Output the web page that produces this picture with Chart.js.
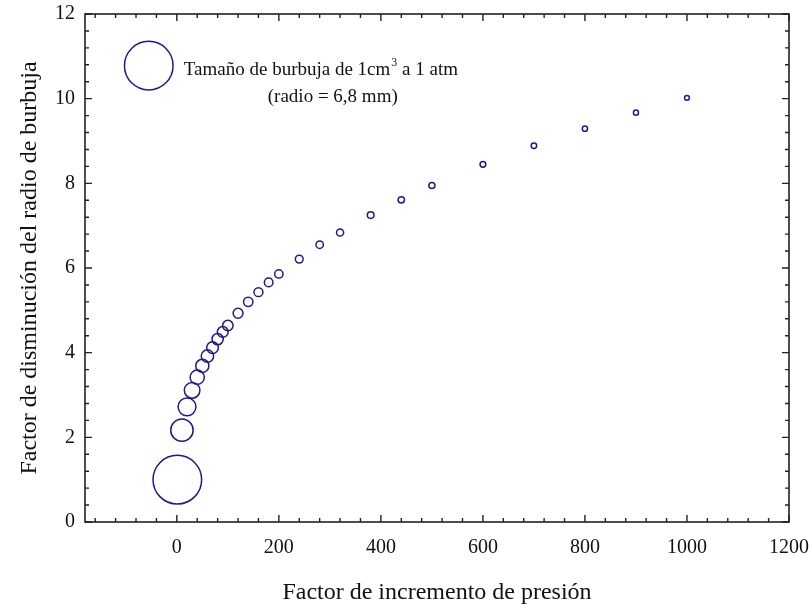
<!DOCTYPE html>
<html>
<head>
<meta charset="utf-8">
<script src="https://cdn.jsdelivr.net/npm/chart.js@4.4.0/dist/chart.umd.min.js"></script>
<style>
  html, body { margin: 0; padding: 0; background: #fff; }
  canvas { display: block; }
</style>
</head>
<body>
<canvas id="bubbleChart" width="812" height="608"></canvas>
<script>
// pressure increase factor (x) and radius decrease factor (y)
const pressureFactor = [1, 10, 20, 30, 40, 50, 60, 70, 80, 90, 100, 120, 140, 160, 180, 200,
    240, 280, 320, 380, 440, 500, 600, 700, 800, 900, 1000];
const radiusFactor = [1.0, 2.17, 2.72, 3.11, 3.42, 3.69, 3.92, 4.12, 4.32, 4.49, 4.64, 4.93,
    5.2, 5.43, 5.66, 5.86, 6.21, 6.55, 6.84, 7.25, 7.61, 7.95, 8.45, 8.89, 9.29, 9.67, 10.02];

// reference bubble (1 cm3 at 1 atm)
const refBubble = [{ x: -55, y: 10.78 }];

const xMajorTicks = [0, 200, 400, 600, 800, 1000, 1200];
const yMajorTicks = [0, 2, 4, 6, 8, 10, 12];

const navy = '#1b1b8c';
const axisColor = '#222222';
const serif = '"Liberation Serif", "DejaVu Serif", serif';
const baseRadius = 24.3; // px, bubble drawn at factor 1

const points = pressureFactor.map((p, i) => ({ x: p, y: radiusFactor[i] }));

// frame with inward major/minor ticks on all four sides
const framePlugin = {
    id: 'frame',
    afterDraw(chart) {
        const { ctx, chartArea: a, scales } = chart;
        const xs = scales.x, ys = scales.y;
        ctx.save();
        ctx.strokeStyle = axisColor;
        ctx.lineWidth = 1.6;
        ctx.strokeRect(a.left, a.top, a.right - a.left, a.bottom - a.top);
        ctx.lineWidth = 1.4;
        ctx.beginPath();
        for (let v = -160; v <= 1200; v += 40) {
            const px = xs.getPixelForValue(v);
            const len = (v % 200 === 0) ? 7 : 4;
            ctx.moveTo(px, a.bottom); ctx.lineTo(px, a.bottom - len);
            ctx.moveTo(px, a.top); ctx.lineTo(px, a.top + len);
        }
        for (let i = 0; i <= 30; i++) {
            const v = i * 0.4;
            const py = ys.getPixelForValue(v);
            const len = (i % 5 === 0) ? 7 : 4;
            ctx.moveTo(a.left, py); ctx.lineTo(a.left + len, py);
            ctx.moveTo(a.right, py); ctx.lineTo(a.right - len, py);
        }
        ctx.stroke();

        // label next to the reference bubble
        const bx = xs.getPixelForValue(refBubble[0].x);
        const by = ys.getPixelForValue(refBubble[0].y);
        ctx.fillStyle = '#111';
        ctx.textBaseline = 'middle';
        ctx.textAlign = 'left';
        ctx.font = '19px ' + serif;
        const tx = bx + 35;
        const part1 = 'Tamaño de burbuja de 1cm';
        ctx.fillText(part1, tx, by + 4);
        let w = ctx.measureText(part1).width;
        ctx.font = '12px ' + serif;
        ctx.fillText('3', tx + w + 1, by - 3);
        const w3 = ctx.measureText('3').width;
        ctx.font = '19px ' + serif;
        ctx.fillText(' a 1 atm', tx + w + w3 + 1, by + 4);
        ctx.textAlign = 'center';
        ctx.fillText('(radio = 6,8 mm)', bx + 184, by + 31);
        ctx.restore();
    }
};

new Chart(document.getElementById('bubbleChart'), {
    type: 'bubble',
    data: {
        datasets: [
            {
                label: 'Burbujas',
                data: points,
                backgroundColor: 'rgba(0,0,0,0)',
                borderColor: navy,
                borderWidth: 1.5,
                radius: (c) => baseRadius / c.raw.y
            },
            {
                label: 'Referencia',
                data: refBubble,
                backgroundColor: 'rgba(0,0,0,0)',
                borderColor: navy,
                borderWidth: 1.5,
                radius: baseRadius
            }
        ]
    },
    options: {
        responsive: false,
        animation: false,
        layout: { autoPadding: false, padding: { top: 14, right: 23, left: 0, bottom: 0 } },
        plugins: {
            legend: { display: false },
            tooltip: { enabled: false }
        },
        scales: {
            x: {
                type: 'linear',
                min: -180,
                max: 1200,
                afterFit: (s) => { s.height = 86; s.paddingLeft = 0; s.paddingRight = 0; },
                afterBuildTicks: (s) => { s.ticks = xMajorTicks.map(v => ({ value: v })); },
                grid: { display: false, drawTicks: false },
                border: { display: false },
                ticks: {
                    padding: 14,
                    color: '#111',
                    font: { family: serif, size: 20 },
                    callback: (v) => String(v)
                },
                title: {
                    display: true,
                    text: 'Factor de incremento de presión',
                    color: '#111',
                    font: { family: serif, size: 24 },
                    padding: { bottom: 1, top: 0 }
                }
            },
            y: {
                type: 'linear',
                min: 0,
                max: 12,
                afterFit: (s) => { s.width = 85; s.paddingTop = 0; s.paddingBottom = 0; },
                afterBuildTicks: (s) => { s.ticks = yMajorTicks.map(v => ({ value: v })); },
                grid: { display: false, drawTicks: false },
                border: { display: false },
                ticks: {
                    padding: 10,
                    color: '#111',
                    font: { family: serif, size: 20 },
                    callback: (v) => String(v)
                },
                title: {
                    display: true,
                    text: 'Factor de disminución del radio de burbuja',
                    color: '#111',
                    font: { family: serif, size: 24 },
                    padding: { top: 15, bottom: 0 }
                }
            }
        }
    },
    plugins: [framePlugin]
});
</script>
</body>
</html>
